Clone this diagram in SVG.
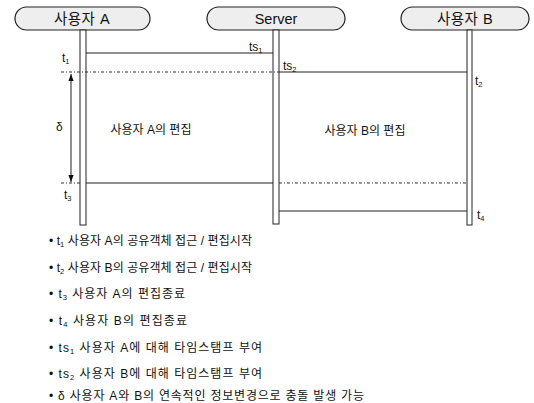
<svg xmlns="http://www.w3.org/2000/svg" width="534" height="403" viewBox="0 0 534 403">
<style>
text{font-family:"Liberation Sans","Noto Sans CJK KR",sans-serif;fill:#111;}
.hd{font-size:14.5px;text-anchor:middle;}
.lb{font-size:12px;}
.li{font-size:12px;}
.pill{fill:#eeeeee;stroke:#222;stroke-width:1.2;}
.life{fill:#fff;stroke:#222;stroke-width:1;}
.sol{stroke:#222;stroke-width:1;fill:none;}
.dot{stroke:#333;stroke-width:1;fill:none;stroke-dasharray:3 2 1 2;}
</style>
<defs>
<marker id="ah" viewBox="0 0 8 8" refX="8" refY="4" markerWidth="7" markerHeight="7" orient="auto-start-reverse"><path d="M0,1 L8,4 L0,7 Z" fill="#111"/></marker>
</defs>
<rect width="534" height="403" fill="#fff"/>
<g id="nodeA"><rect class="pill" x="15" y="7" width="135" height="23" rx="11.5"/><text class="hd" x="82" y="24" letter-spacing="0.5">사용자 A</text>
<rect class="life" x="80" y="30" width="6" height="195"/></g>
<g id="nodeServer"><rect class="pill" x="207" y="7" width="138" height="23" rx="11.5"/><text class="hd" x="276" y="24">Server</text>
<rect class="life" x="273" y="30" width="6" height="194"/></g>
<g id="nodeB"><rect class="pill" x="401" y="7" width="128" height="23" rx="11.5"/><text class="hd" x="465" y="24" letter-spacing="0.5">사용자 B</text>
<rect class="life" x="467" y="30" width="5" height="195"/></g>
<g id="connectors">
<line class="sol" x1="86" y1="53" x2="273" y2="53"/>
<line class="dot" x1="61" y1="72" x2="279" y2="72"/>
<line class="sol" x1="279" y1="72" x2="467" y2="72"/>
<line class="dot" x1="61" y1="183" x2="80" y2="183"/>
<line class="sol" x1="86" y1="183" x2="273" y2="183"/>
<line class="dot" x1="279" y1="183" x2="467" y2="183"/>
<line class="sol" x1="279" y1="211" x2="467" y2="211"/>
<line class="sol" x1="71" y1="74" x2="71" y2="182" marker-start="url(#ah)" marker-end="url(#ah)"/>
</g>
<g id="labels">
<text class="lb" x="62" y="62">t<tspan font-size="7.5" dy="2">1</tspan></text>
<text class="lb" x="249" y="51">ts<tspan font-size="7.5" dy="2">1</tspan></text>
<text class="lb" x="283" y="70">ts<tspan font-size="7.5" dy="2">2</tspan></text>
<text class="lb" x="475" y="85">t<tspan font-size="7.5" dy="2">2</tspan></text>
<text class="lb" x="56" y="131">δ</text>
<text class="lb" x="64" y="199">t<tspan font-size="7.5" dy="2">3</tspan></text>
<text class="lb" x="477" y="219">t<tspan font-size="7.5" dy="2">4</tspan></text>
<text class="lb" x="151" y="134" text-anchor="middle" font-size="11">사용자 A의 편집</text>
<text class="lb" x="365" y="135" text-anchor="middle" font-size="11">사용자 B의 편집</text>
</g>
<g id="legend">
<text class="li" x="49" y="245" textLength="203" lengthAdjust="spacing">• t<tspan font-size="7.5" dy="2">1</tspan><tspan dy="-2"> 사용자 A의 공유객체 접근 / 편집시작</tspan></text>
<text class="li" x="49" y="272" textLength="203" lengthAdjust="spacing">• t<tspan font-size="7.5" dy="2">2</tspan><tspan dy="-2"> 사용자 B의 공유객체 접근 / 편집시작</tspan></text>
<text class="li" x="49" y="298" textLength="136" lengthAdjust="spacing">• t<tspan font-size="7.5" dy="2">3</tspan><tspan dy="-2"> 사용자 A의 편집종료</tspan></text>
<text class="li" x="49" y="325" textLength="138" lengthAdjust="spacing">• t<tspan font-size="7.5" dy="2">4</tspan><tspan dy="-2"> 사용자 B의 편집종료</tspan></text>
<text class="li" x="49" y="352" textLength="213" lengthAdjust="spacing">• ts<tspan font-size="7.5" dy="2">1</tspan><tspan dy="-2"> 사용자 A에 대해 타임스탬프 부여</tspan></text>
<text class="li" x="49" y="378" textLength="213" lengthAdjust="spacing">• ts<tspan font-size="7.5" dy="2">2</tspan><tspan dy="-2"> 사용자 B에 대해 타임스탬프 부여</tspan></text>
<text class="li" x="49" y="400" textLength="315" lengthAdjust="spacing">• δ  사용자 A와 B의 연속적인 정보변경으로 충돌 발생 가능</text>
</g>
</svg>
